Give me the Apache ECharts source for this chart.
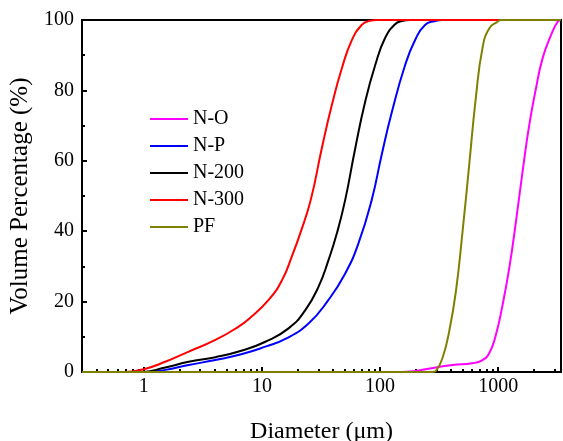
<!DOCTYPE html>
<html>
<head>
<meta charset="utf-8">
<script src="https://cdn.jsdelivr.net/npm/echarts@6/dist/echarts.min.js"></script>
<style>
  html, body { margin: 0; padding: 0; background: #fff; }
  #chart { width: 563px; height: 441px; }
</style>
</head>
<body>
<div id="chart"></div>
<script>
// x range of the log axis (um)
var xMin = 0.3;
var xMax = 3400;

// N-O
var noD = [0.3, 150, 200, 297, 410, 605, 736, 839, 955, 1088, 1240, 1413, 1607, 1832, 2089, 2374, 2799, 3185, 3400];
var noV = [0, 0, 0.3, 1.3, 2.0, 2.5, 3.4, 5.3, 10.5, 19, 29.5, 42.7, 56.9, 70.2, 80.6, 89.1, 95.7, 99.5, 100];
// N-P
var npD = [0.3, 1.05, 1.52, 2.4, 4.04, 6.8, 10.7, 15.8, 24.8, 36.6, 50.7, 65.7, 85, 103, 126, 163, 198, 240, 292, 340, 3400];
var npV = [0, 0, 0.6, 2.0, 3.4, 5.1, 7.2, 9.4, 13.8, 20.5, 28, 36.6, 48.9, 61.6, 73.9, 87.2, 94.3, 98.6, 99.7, 100, 100];
// N-200
var n200D = [0.3, 0.95, 1.52, 2.4, 4.04, 6.8, 10.7, 16.8, 23.3, 30.1, 36.6, 43.1, 50.7, 61.6, 74.8, 91, 110, 134, 153, 180, 3400];
var n200V = [0, 0, 1.3, 2.9, 4.2, 6.1, 8.6, 12.4, 17.6, 24.2, 31.8, 39.4, 48.9, 63.5, 76.8, 87.2, 94.8, 98.8, 99.7, 100, 100];
// N-300
var n300D = [0.3, 0.68, 1, 1.52, 2.4, 4.04, 6.35, 7.7, 11.4, 14.8, 17.9, 21.1, 25.9, 32.1, 39.1, 47.5, 57.7, 70, 80, 95, 3400];
var n300V = [0, 0, 0.8, 2.9, 5.8, 9.1, 12.9, 15, 20.5, 26.1, 32.8, 39.4, 48.9, 63.5, 75.9, 86.3, 94.3, 98.6, 99.7, 100, 100];
// PF
var pfD = [0.3, 280, 297, 337, 384, 438, 499, 568, 646, 736, 839, 987, 1050, 3400];
var pfV = [0, 0, 0.3, 3.9, 11.4, 22.8, 39.9, 58.8, 77.8, 92, 97.6, 99.5, 100, 100];

var names = ['N-O', 'N-P', 'N-200', 'N-300', 'PF'];
var colors = ['#ff00ff', '#0000ff', '#000000', '#ff0000', '#808000'];

// tick positions
var majorTicks = [1, 10, 100, 1000];
var minorTickValues = [0.4, 0.5, 0.6, 0.7, 0.8, 0.9, 2, 3, 4, 5, 6, 7, 8, 9,
    20, 30, 40, 50, 60, 70, 80, 90, 200, 300, 400, 500, 600, 700, 800, 900, 2000, 3000];

function pairs(d, v) {
    return d.map(function(x, i) { return [x, v[i]]; });
}

var seriesData = [pairs(noD, noV), pairs(npD, npV), pairs(n200D, n200V), pairs(n300D, n300V), pairs(pfD, pfV)];

var font = 'Liberation Serif';
var chart = echarts.init(document.getElementById('chart'));

var logMin = Math.log10(xMin);
var logMax = Math.log10(xMax);
var toLog = function(v) { return Math.log10(v); };

var option = {
    animation: false,
    backgroundColor: '#fff',
    textStyle: { fontFamily: font, color: '#000' },
    grid: {
        left: 82,
        right: 2,
        top: 20,
        bottom: 69,
        outerBoundsMode: 'none',
        show: true,
        borderColor: '#000',
        borderWidth: 2,
        backgroundColor: 'transparent'
    },
    legend: {
        orient: 'vertical',
        left: 145,
        top: 104,
        icon: 'rect',
        itemWidth: 38,
        itemHeight: 2,
        itemGap: 7,
        data: names,
        textStyle: { fontFamily: font, fontSize: 20, color: '#000', lineHeight: 20 }
    },
    xAxis: [{
        // data axis
        type: 'log',
        logBase: 10,
        min: xMin,
        max: xMax,
        show: false
    }, {
        // major ticks + labels (log10 space)
        type: 'value',
        min: logMin,
        max: logMax,
        position: 'bottom',
        name: 'Diameter (\u03bcm)',
        nameLocation: 'middle',
        nameGap: 48,
        nameTextStyle: { fontFamily: font, fontSize: 24, color: '#000' },
        axisLine: { show: false, onZero: false },
        splitLine: { show: false },
        axisTick: {
            show: true,
            inside: true,
            length: 5,
            customValues: majorTicks.map(toLog),
            lineStyle: { color: '#000', width: 2 }
        },
        axisLabel: {
            customValues: majorTicks.map(toLog),
            margin: 5,
            fontFamily: font,
            fontSize: 20,
            color: '#000',
            formatter: function(v) { return String(Math.round(Math.pow(10, v))); }
        }
    }, {
        // minor ticks
        type: 'value',
        min: logMin,
        max: logMax,
        position: 'bottom',
        axisLine: { show: false, onZero: false },
        splitLine: { show: false },
        axisTick: {
            show: true,
            inside: true,
            length: 3,
            customValues: minorTickValues.map(toLog),
            lineStyle: { color: '#000', width: 2 }
        },
        axisLabel: { show: false }
    }],
    yAxis: {
        type: 'value',
        min: 0,
        max: 100,
        interval: 20,
        name: 'Volume Percentage (%)',
        nameLocation: 'middle',
        nameGap: 45,
        nameTextStyle: { fontFamily: font, fontSize: 25, color: '#000' },
        axisLine: { show: false, onZero: false },
        splitLine: { show: false },
        axisTick: {
            inside: true,
            length: 5,
            lineStyle: { color: '#000', width: 2 }
        },
        minorTick: {
            show: true,
            splitNumber: 2,
            length: 3,
            lineStyle: { color: '#000', width: 2 }
        },
        axisLabel: {
            margin: 8,
            fontFamily: font,
            fontSize: 20,
            color: '#000'
        }
    },
    series: names.map(function(n, i) {
        return {
            name: n,
            type: 'line',
            xAxisIndex: 0,
            data: seriesData[i],
            showSymbol: false,
            symbol: 'none',
            smooth: 0.5,
            clip: false,
            lineStyle: { color: colors[i], width: 2 },
            itemStyle: { color: colors[i] }
        };
    })
};

chart.setOption(option);
</script>
</body>
</html>
